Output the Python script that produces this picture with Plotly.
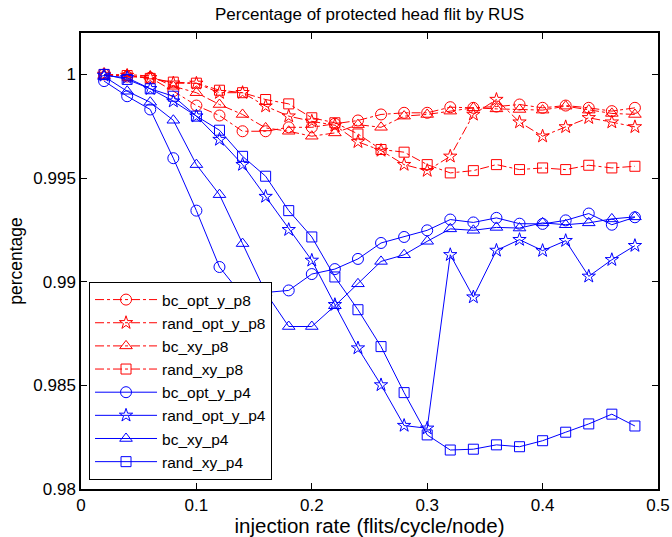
import plotly.graph_objects as go

injection_rate = [0.02, 0.04, 0.06, 0.08, 0.10, 0.12, 0.14, 0.16, 0.18, 0.20, 0.22, 0.24,
                  0.26, 0.28, 0.30, 0.32, 0.34, 0.36, 0.38, 0.40, 0.42, 0.44, 0.46, 0.48]

bc_opt_y_p8 = [1.0, 0.9999, 0.99984, 0.9992, 0.9985, 0.99802, 0.99726, 0.99726, 0.99745, 0.99745,
               0.99762, 0.99778, 0.99807, 0.99815, 0.99815, 0.99842, 0.99839, 0.99845, 0.99855,
               0.99839, 0.9985, 0.99839, 0.99823, 0.99839]
rand_opt_y_p8 = [1.0, 0.99995, 0.99984, 0.99958, 0.99957, 0.99912, 0.99912, 0.99847, 0.99799, 0.99774,
                 0.99755, 0.99675, 0.99633, 0.99565, 0.99536, 0.99605, 0.99807, 0.99879, 0.9977,
                 0.99702, 0.99747, 0.99791, 0.9977, 0.99747]
bc_xy_p8 = [0.99995, 1.0, 0.99992, 0.99943, 0.99912, 0.99855, 0.99807, 0.99742, 0.99726, 0.99702,
            0.99718, 0.99758, 0.99745, 0.99799, 0.99807, 0.99823, 0.99839, 0.99834, 0.99831,
            0.99828, 0.99847, 0.99828, 0.99812, 0.99807]
rand_xy_p8 = [1.0, 0.99995, 0.99981, 0.99963, 0.99958, 0.99924, 0.99912, 0.99879, 0.99858, 0.99791,
              0.99767, 0.99713, 0.99638, 0.99625, 0.99565, 0.99525, 0.99536, 0.99565, 0.99541,
              0.99549, 0.99541, 0.99562, 0.99549, 0.99557]

bc_opt_y_p4 = [0.99968, 0.99895, 0.99831, 0.99596, 0.99343, 0.99071, 0.98932, 0.98948, 0.98958, 0.99037,
               0.99061, 0.9911, 0.99187, 0.99216, 0.99248, 0.993, 0.99286, 0.99308, 0.9928,
               0.99279, 0.99296, 0.99329, 0.99275, 0.99311]
rand_opt_y_p4 = [0.99995, 0.99984, 0.99931, 0.99871, 0.99799, 0.99686, 0.99565, 0.99411, 0.99251, 0.99103,
                 0.98889, 0.9868, 0.98502, 0.98306, 0.98293, 0.9913, 0.98926, 0.99151, 0.99203,
                 0.9915, 0.99198, 0.99026, 0.99106, 0.99174]
bc_xy_p4 = [0.9999, 0.99919, 0.99866, 0.99779, 0.99565, 0.9942, 0.99184, 0.98948, 0.98784, 0.98784,
            0.98884, 0.9899, 0.99098, 0.9913, 0.99195, 0.99255, 0.99248, 0.99262, 0.99259,
            0.99284, 0.99275, 0.99284, 0.99303, 0.99313]
rand_xy_p4 = [1.0, 0.99976, 0.99931, 0.99895, 0.99799, 0.99731, 0.99605, 0.99509, 0.99343, 0.99216,
              0.99023, 0.98865, 0.98687, 0.98465, 0.98261, 0.98188, 0.98192, 0.98213, 0.98204,
              0.98233, 0.98274, 0.98314, 0.98361, 0.98304]

x_tick_vals = [0, 0.1, 0.2, 0.3, 0.4, 0.5]
x_tick_text = ["0", "0.1", "0.2", "0.3", "0.4", "0.5"]
y_tick_vals = [0.98, 0.985, 0.99, 0.995, 1.0]
y_tick_text = ["0.98", "0.985", "0.99", "0.995", "1"]

marker_sizes = {"circle-open": 11, "star-open": 10, "triangle-up-open": 11, "square-open": 10}

series = [
    ("bc_opt_y_p8", bc_opt_y_p8, "red", "dashdot", "circle-open"),
    ("rand_opt_y_p8", rand_opt_y_p8, "red", "dashdot", "star-open"),
    ("bc_xy_p8", bc_xy_p8, "red", "dashdot", "triangle-up-open"),
    ("rand_xy_p8", rand_xy_p8, "red", "dashdot", "square-open"),
    ("bc_opt_y_p4", bc_opt_y_p4, "blue", "solid", "circle-open"),
    ("rand_opt_y_p4", rand_opt_y_p4, "blue", "solid", "star-open"),
    ("bc_xy_p4", bc_xy_p4, "blue", "solid", "triangle-up-open"),
    ("rand_xy_p4", rand_xy_p4, "blue", "solid", "square-open"),
]

fig = go.Figure()
for name, vals, color, dash, sym in series:
    fig.add_trace(go.Scatter(
        x=injection_rate, y=vals, name=name, mode="lines+markers",
        line=dict(color=color, width=1, dash=dash),
        marker=dict(symbol=sym, size=marker_sizes[sym], color=color,
                    line=dict(color=color, width=1)),
    ))

font_family = "Liberation Sans, Arial, Helvetica, sans-serif"

fig.update_layout(
    width=672, height=537,
    margin=dict(l=81, r=14, t=33, b=48),
    paper_bgcolor="white", plot_bgcolor="white",
    font=dict(family=font_family, size=17, color="black"),
    title=dict(text="Percentage of protected head flit by RUS", x=0.5, xref="paper", xanchor="center",
               y=0.974, yref="container", yanchor="middle", font=dict(size=17, family=font_family)),
    xaxis=dict(range=[0, 0.5], tickvals=x_tick_vals, ticktext=x_tick_text, automargin=False,
               showgrid=False, zeroline=False, showline=True, linecolor="black", linewidth=1.5,
               mirror="ticks", ticks="inside", ticklen=6, tickcolor="black",
               tickfont=dict(size=17),
               title=dict(text="injection rate (flits/cycle/node)", standoff=2, font=dict(size=20.5))),
    yaxis=dict(range=[0.98, 1.002], tickvals=y_tick_vals, ticktext=y_tick_text, automargin=False,
               showgrid=False, zeroline=False, showline=True, linecolor="black", linewidth=1.5,
               mirror="ticks", ticks="inside", ticklen=6, tickcolor="black",
               tickfont=dict(size=17),
               title=dict(text="percentage", standoff=6, font=dict(size=17.5))),
    legend=dict(x=0.0139, y=0.0197, xanchor="left", yanchor="bottom",
                bgcolor="white", bordercolor="black", borderwidth=1,
                font=dict(size=15.5, family=font_family), itemwidth=62,
                tracegroupgap=0),
)

fig.write_html("out.html", config={"displayModeBar": False},
               post_script="document.body.style.margin='0';document.body.style.overflow='hidden';")
